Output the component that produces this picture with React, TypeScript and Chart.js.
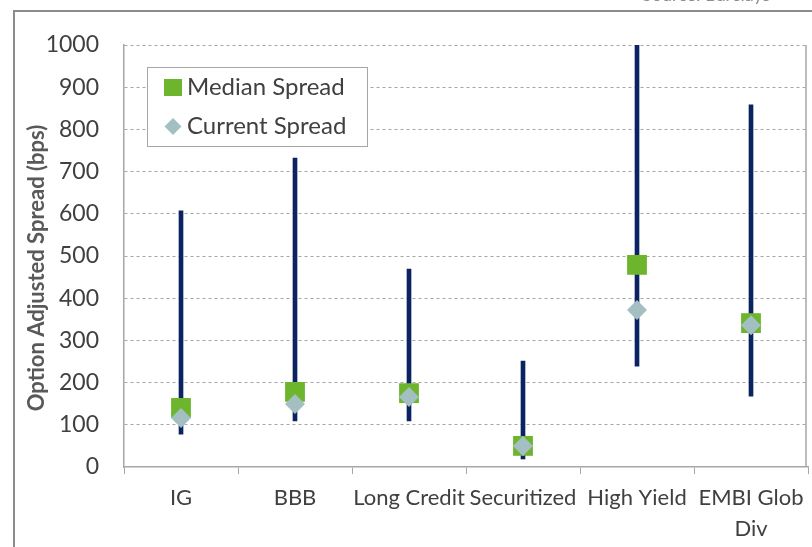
import React, { useEffect, useRef } from "react";
import { Chart, registerables } from "chart.js";

Chart.register(...registerables);

const categories: (string | string[])[] = ["IG", "BBB", "Long Credit", "Securitized", "High Yield", ["EMBI Glob", "Div"]];
const rangeLow = [78, 109, 109, 19, 239, 168];
const rangeHigh = [607, 732, 469, 251, 1000, 858];
const medianSpread = [140, 178, 175, 50, 479, 341];
const currentSpread = [116, 149, 166, 50, 372, 336];
const yTicks = [0, 100, 200, 300, 400, 500, 600, 700, 800, 900, 1000];
const yTitle = "Option Adjusted Spread (bps)";

const NAVY = "#0b2461";
const GREEN = "#6cb52d";
const DIAMOND = "#a3bfc2";
const FONT = "Lato, 'Open Sans', sans-serif";

const framePlugin = {
  id: "frame",
  beforeDraw(chart: any) {
    const ctx = chart.ctx;
    ctx.save();
    ctx.fillStyle = "#ffffff";
    ctx.fillRect(0, 0, chart.width, chart.height);
    ctx.strokeStyle = "#8c8c8c";
    ctx.lineWidth = 2;
    ctx.beginPath();
    ctx.moveTo(14, chart.height);
    ctx.lineTo(14, 11);
    ctx.lineTo(chart.width, 11);
    ctx.stroke();
    ctx.fillStyle = "#8c8c8c";
    ctx.font = `18px ${FONT}`;
    ctx.textBaseline = "alphabetic";
    ctx.fillText("Source: Barclays", 642, 1);
    // y title
    ctx.translate(37, 268);
    ctx.rotate(-Math.PI / 2);
    ctx.fillStyle = "#595959";
    ctx.font = `bold 22px ${FONT}`;
    ctx.textAlign = "center";
    ctx.textBaseline = "middle";
    ctx.fillText(yTitle, 0, 0);
    ctx.restore();
  },
  afterDatasetsDraw(chart: any) {
    const ctx = chart.ctx;
    const a = chart.chartArea;
    ctx.save();
    ctx.strokeStyle = "#a6a6a6";
    ctx.lineWidth = 1.5;
    ctx.beginPath();
    ctx.moveTo(a.right - 2, a.top);
    ctx.lineTo(a.right - 2, a.bottom);
    ctx.stroke();
    // legend
    const lx = 147, ly = 67, lw = 220, lh = 79;
    ctx.fillStyle = "#ffffff";
    ctx.fillRect(lx, ly, lw, lh);
    ctx.strokeStyle = "#a6a6a6";
    ctx.lineWidth = 1;
    ctx.strokeRect(lx + 0.5, ly + 0.5, lw, lh);
    ctx.fillStyle = GREEN;
    ctx.fillRect(164, 79, 18, 17);
    ctx.fillStyle = DIAMOND;
    ctx.beginPath();
    ctx.moveTo(173, 118);
    ctx.lineTo(181.5, 126.5);
    ctx.lineTo(173, 135);
    ctx.lineTo(164.5, 126.5);
    ctx.closePath();
    ctx.fill();
    ctx.fillStyle = "#404040";
    ctx.font = `24px ${FONT}`;
    ctx.textBaseline = "middle";
    ctx.fillText("Median Spread", 187, 87);
    ctx.fillText("Current Spread", 187, 126);
    ctx.restore();
  },
};

export default function App() {
  const ref = useRef<HTMLCanvasElement>(null);
  useEffect(() => {
    if (!ref.current) return;
    const chart = new Chart(ref.current, {
      type: "bar",
      data: {
        labels: categories as any,
        datasets: [
          {
            type: "line",
            label: "Current Spread",
            data: currentSpread,
            showLine: false,
            pointStyle: "rectRot",
            pointRadius: 10,
            pointBackgroundColor: DIAMOND,
            pointBorderColor: DIAMOND,
            pointBorderWidth: 0,
            order: 0,
          } as any,
          {
            type: "line",
            label: "Median Spread",
            data: medianSpread,
            showLine: false,
            pointStyle: "rect",
            pointRadius: 14,
            pointBackgroundColor: GREEN,
            pointBorderColor: GREEN,
            pointBorderWidth: 0,
            order: 1,
          } as any,
          {
            type: "bar",
            label: "Range",
            data: rangeLow.map((lo, i) => [lo, rangeHigh[i]]),
            backgroundColor: NAVY,
            borderWidth: 0,
            barThickness: 4,
            order: 2,
          } as any,
        ],
      },
      options: {
        animation: false,
        responsive: false,
        maintainAspectRatio: false,
        layout: { autoPadding: false, padding: { left: 0, top: 45, right: 4, bottom: 0 } },
        plugins: {
          legend: { display: false },
          tooltip: { enabled: false },
        },
        scales: {
          x: {
            offset: true,
            grid: {
              offset: true,
              drawOnChartArea: false,
              drawTicks: true,
              tickLength: 7,
              color: "#a6a6a6",
            },
            border: { color: "#a6a6a6", width: 1.5 },
            ticks: {
              color: "#404040",
              font: { family: FONT, size: 22, lineHeight: 1.4 },
              padding: 9,
              maxRotation: 0,
              autoSkip: false,
            },
            afterFit(scale: any) {
              scale.height = 80;
              scale.paddingLeft = 0;
              scale.paddingRight = 0;
            },
          },
          y: {
            min: 0,
            max: 1000,
            afterBuildTicks(scale: any) {
              scale.ticks = yTicks.map((v) => ({ value: v }));
            },
            grid: {
              drawTicks: false,
              color: (c: any) => (c.tick && c.tick.value === 0 ? "rgba(0,0,0,0)" : "#a6a6a6"),
              lineWidth: 1,
            },
            border: { color: "#a6a6a6", width: 1.5, dash: [3, 3] },
            ticks: {
              color: "#404040",
              font: { family: FONT, size: 23 },
              padding: 25,
              callback: (v: any) => String(v),
            },
            afterFit(scale: any) {
              scale.width = 124;
              scale.paddingTop = 0;
              scale.paddingBottom = 0;
            },
          },
        },
      },
      plugins: [framePlugin],
    });
    return () => chart.destroy();
  }, []);
  return (
    <div style={{ position: "absolute", left: 0, top: 0, width: 812, height: 547 }}>
      <canvas ref={ref} width={812} height={547} />
    </div>
  );
}
